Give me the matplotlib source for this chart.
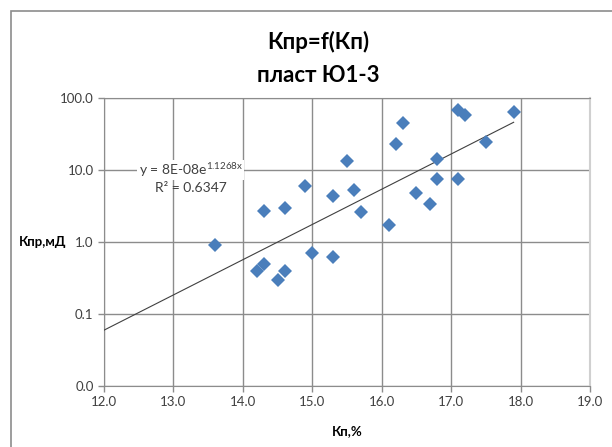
import numpy as np
import matplotlib
matplotlib.use("Agg")
import matplotlib.pyplot as plt
from matplotlib.patches import Rectangle

plt.rcParams['font.family'] = ['Lato', 'DejaVu Sans']
plt.rcParams['mathtext.default'] = 'regular'

# Данные: пористость Кп, % и проницаемость Кпр, мД
kp = [13.6, 14.2, 14.3, 14.3, 14.5, 14.6, 14.6, 14.9, 15.0, 15.3, 15.3, 15.5, 15.6,
      15.7, 16.1, 16.2, 16.3, 16.5, 16.7, 16.8, 16.8, 17.1, 17.1, 17.2, 17.5, 17.9]
kpr = [0.91, 0.40, 0.50, 2.7, 0.30, 0.40, 3.0, 6.0, 0.70, 0.62, 4.4, 13.3, 5.3,
       2.6, 1.72, 23.0, 45.0, 4.8, 3.4, 14.2, 7.6, 7.6, 68.0, 58.0, 24.5, 64.0]

# Экспоненциальный тренд (из подписи на графике)
a_coef = 8e-8
b_coef = 1.1268
trend_x = np.linspace(12.0, 17.9, 100)
trend_y = a_coef * np.exp(b_coef * trend_x)

xticks = [12.0, 13.0, 14.0, 15.0, 16.0, 17.0, 18.0, 19.0]
yticks = [0.01, 0.1, 1.0, 10.0, 100.0]
ytick_labels = ["0.0", "0.1", "1.0", "10.0", "100.0"]

fig = plt.figure(figsize=(6.12, 4.47), dpi=100)
ax = fig.add_axes([104/612, 1-386/447, (590-104)/612, (386-98)/447])

# рамка диаграммы
fig.patches.append(Rectangle((11/612, -0.1), 1.2, 1-11/447+0.1, transform=fig.transFigure,
                             fill=False, edgecolor='#8c8c8c', linewidth=1.2))

ax.set_yscale('log')
ax.set_xlim(12, 19)
ax.set_ylim(0.01, 100)
ax.set_xticks(xticks)
ax.set_xticklabels(["%.1f" % t for t in xticks])
ax.set_yticks(yticks)
ax.set_yticklabels(ytick_labels)
ax.yaxis.set_minor_locator(matplotlib.ticker.NullLocator())
ax.tick_params(labelsize=9.5, colors='#8c8c8c', labelcolor='#404040', length=4, width=1)

ax.grid(True, color='#8c8c8c', linewidth=1)
for s in ['left', 'bottom', 'top']:
    ax.spines[s].set_color('#8c8c8c')
ax.spines['right'].set_color('#d0d0d0')
ax.spines['right'].set_linewidth(1.5)

ax.plot(trend_x, trend_y, color='#404040', linewidth=0.8, zorder=3)
ax.plot(kp, kpr, 'D', color='#4a7ebb', markersize=7.5, markeredgewidth=0, zorder=4)

ax.text(13.25, 10.0, "y = 8E-08e$^{1.1268x}$", ha='center', va='center', fontsize=10,
        color='#404040', bbox=dict(facecolor='white', edgecolor='none', pad=1), zorder=5)
ax.text(13.25, 5.55, "R² = 0.6347", ha='center', va='center', fontsize=10,
        color='#404040', zorder=5)

fig.text(318/612, 1-42/447, "Кпр=f(Кп)", ha='center', va='center', fontsize=16, fontweight='bold')
fig.text(318/612, 1-75/447, "пласт Ю1-3", ha='center', va='center', fontsize=16, fontweight='bold')

ax.set_xlabel("Кп,%", fontsize=9.5, fontweight='bold', labelpad=12)
ax.set_ylabel("Кпр,мД", fontsize=9.5, fontweight='bold', rotation=0, ha='right', va='center')
ax.yaxis.set_label_coords(-0.078, 0.5)

fig.savefig("out.png", dpi=100)
